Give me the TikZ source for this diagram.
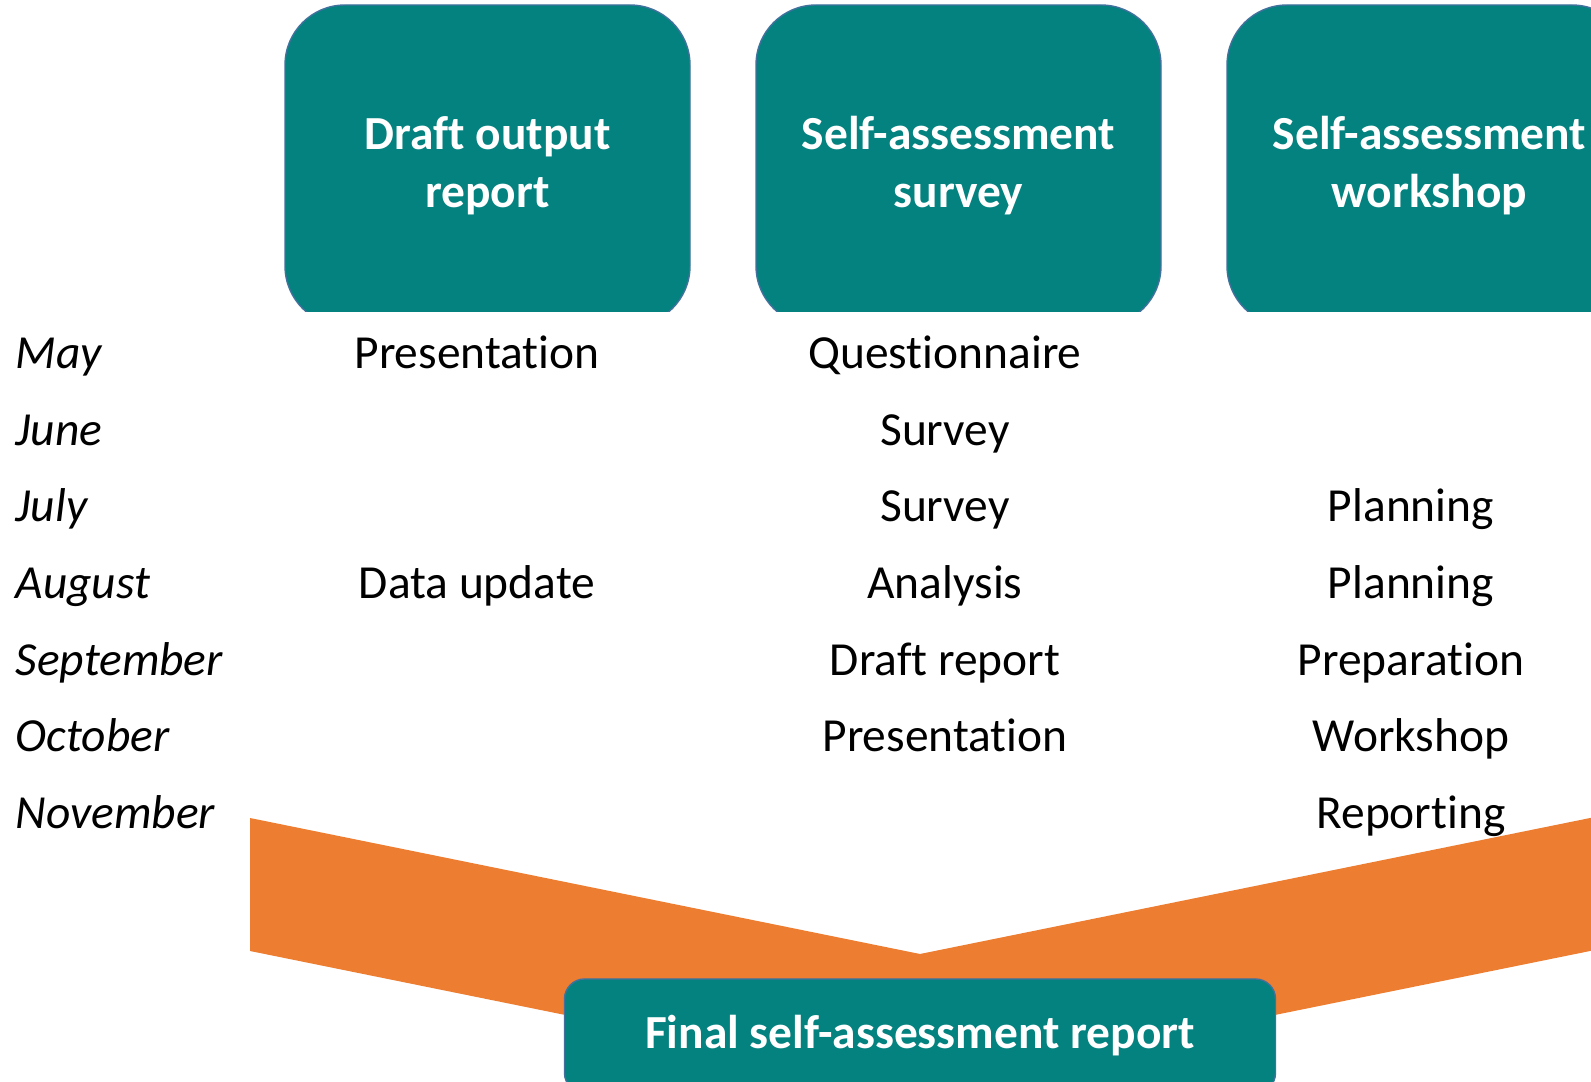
\documentclass[tikz,border=0pt]{standalone}
\usepackage{fontspec}
\setmainfont{Carlito}[Ligatures={NoCommon}]
\usepackage{tikz}
\usetikzlibrary{positioning}
\definecolor{phaseteal}{RGB}{3,130,128}
\definecolor{phaseedge}{RGB}{65,113,156}
\definecolor{mergeorange}{RGB}{237,125,49}
\tikzset{
    x=0.1mm, y=-0.1mm, % one unit per pixel, y counted downwards
    every node/.style={ % Plain text everywhere
        inner sep=0pt,
        font=\fontsize{13.5}{16.5}\selectfont
    },
    phase/.style={ % Sets the properties for each top box
        fill=phaseteal,
        draw=phaseedge,
        line width=0.4pt,
        rounded corners=6mm,
        minimum width=40.5mm,
        minimum height=32.1mm,
        align=center,
        text=white,
        font=\fontsize{13.5}{16.5}\selectfont\bfseries
    },
    month/.style={ % Month names on the left
        anchor=base west,
        font=\fontsize{13.5}{16.5}\selectfont\itshape
    },
    task/.style={anchor=base}, % Activity of a month
    final/.style={ % The box at the bottom
        phase,
        rounded corners=2mm,
        minimum width=71.1mm,
        minimum height=11.4mm
    }
}

\begin{document}
\begin{tikzpicture}
            \useasboundingbox (0,0) rectangle (1591,1082);
            \clip (0,0) rectangle (1591,1082);

            \begin{scope}
                \clip (0,0) rectangle (1591,312);
                \node[phase] (draft) at (487.5,165.5) {Draft output\\report};
                \node[phase] (survey) at (958.5,165.5) {Self-assessment\\survey};
                \node[phase] (workshop) at (1429.5,165.5) {Self-assessment\\workshop};
            \end{scope}

            \node[month] (may) at (15,369) {May};
            \node[month] (june) at (15,446) {June};
            \node[month] (july) at (15,522) {July};
            \node[month] (august) at (15,599) {August};
            \node[month] (september) at (15,676) {September};
            \node[month] (october) at (15,752) {October};
            \node[month] (november) at (15,829) {November};

            \node[task] (d-may) at (477,369) {Presentation};
            \node[task] (d-aug) at (477,599) {Data update};

            \node[task] (s-may) at (945,369) {Questionnaire};
            \node[task] (s-jun) at (945,446) {Survey};
            \node[task] (s-jul) at (945,522) {Survey};
            \node[task] (s-aug) at (945,599) {Analysis};
            \node[task] (s-sep) at (945,676) {Draft report};
            \node[task] (s-oct) at (945,752) {Presentation};

            \node[task] (w-jul) at (1411,522) {Planning};
            \node[task] (w-aug) at (1411,599) {Planning};
            \node[task] (w-sep) at (1411,676) {Preparation};
            \node[task] (w-oct) at (1411,752) {Workshop};
            \node[task] (w-nov) at (1411,829) {Reporting};

            % merging band
            \fill[mergeorange] (250,818) -- (920,954) -- (1600,816) -- (1600,949)
                -- (920,1087) -- (250,951) -- cycle;

            \node[final] (report) at (920,1036) {Final self-assessment report};

        \end{tikzpicture}
\end{document}
